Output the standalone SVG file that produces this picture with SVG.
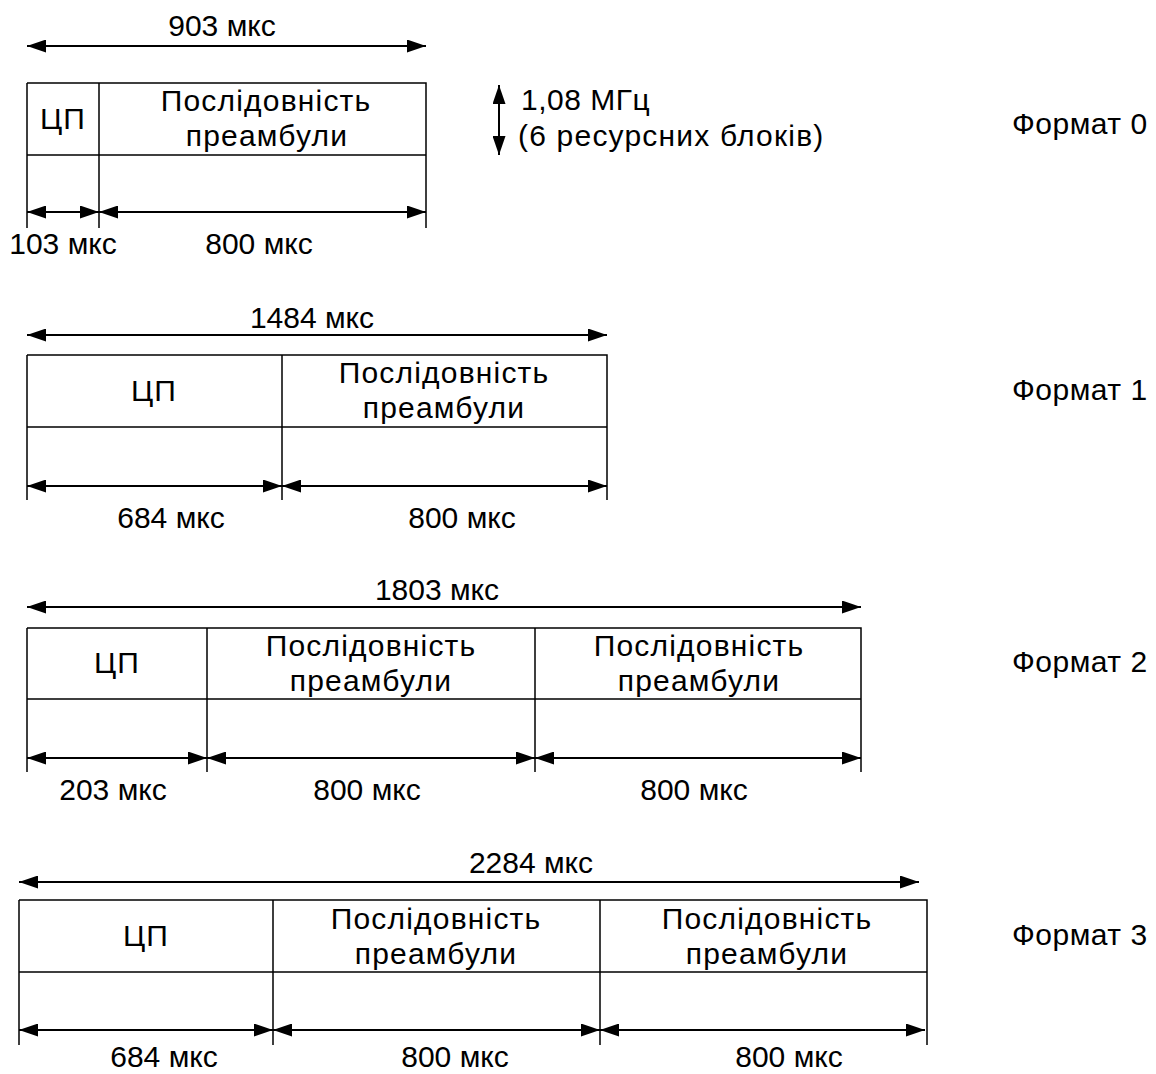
<svg xmlns="http://www.w3.org/2000/svg" width="1156" height="1074" viewBox="0 0 1156 1074">
  <style>
    text { font-family: "Liberation Sans", Arial, sans-serif; font-size: 30px; fill: #000; }
    .c { text-anchor: middle; }
    .w { letter-spacing: 1.2px; }
    .box { fill: none; stroke: #000; stroke-width: 1.5; }
    .dim { stroke: #000; stroke-width: 2; fill: none; marker-start: url(#ah); marker-end: url(#ah); }
  </style>
  <defs>
    <marker id="ah" viewBox="0 0 19 13" markerWidth="19" markerHeight="13" refX="19" refY="6.5" orient="auto-start-reverse" markerUnits="userSpaceOnUse">
      <path d="M0,0 L19,6.5 L0,13 z" fill="#000"/>
    </marker>
  </defs>

  <!-- Format 0 -->
  <g id="format0">
    <path class="box" d="M27,83 H426 V228 M27,228 V83 M27,155 H426 M99,83 V228"/>
    <text class="c w" x="63" y="129">ЦП</text>
    <text class="c w" x="266" y="111">Послідовність</text>
    <text class="c w" x="267" y="146">преамбули</text>
    <text x="1012" y="134" letter-spacing="0.5">Формат 0</text>
  </g>
  <g id="band">
    <path class="dim" d="M499,85 V155"/>
    <text x="521" y="110" letter-spacing="0.5">1,08 МГц</text>
    <text class="w" x="518" y="146">(6 ресурсних блоків)</text>
  </g>

  <!-- Format 1 -->
  <g id="format1">
    <path class="box" d="M27,355 H607 V500 M27,500 V355 M27,427 H607 M282,355 V500"/>
    <text class="c w" x="154" y="401">ЦП</text>
    <text class="c w" x="444" y="383">Послідовність</text>
    <text class="c w" x="444" y="418">преамбули</text>
    <text x="1012" y="400" letter-spacing="0.5">Формат 1</text>
  </g>

  <!-- Format 2 -->
  <g id="format2">
    <path class="box" d="M27,628 H861 V772 M27,772 V628 M27,699 H861 M207,628 V772 M535,628 V772"/>
    <text class="c w" x="117" y="673">ЦП</text>
    <text class="c w" x="371" y="656">Послідовність</text>
    <text class="c w" x="371" y="691">преамбули</text>
    <text class="c w" x="699" y="656">Послідовність</text>
    <text class="c w" x="699" y="691">преамбули</text>
    <text x="1012" y="672" letter-spacing="0.5">Формат 2</text>
  </g>

  <!-- Format 3 -->
  <g id="format3">
    <path class="box" d="M19,900 H927 V1045 M19,1045 V900 M19,972 H927 M273,900 V1045 M600,900 V1045"/>
    <text class="c w" x="146" y="946">ЦП</text>
    <text class="c w" x="436" y="929">Послідовність</text>
    <text class="c w" x="436" y="964">преамбули</text>
    <text class="c w" x="767" y="929">Послідовність</text>
    <text class="c w" x="767" y="964">преамбули</text>
    <text x="1012" y="945" letter-spacing="0.5">Формат 3</text>
  </g>

  <!-- Dimension lines -->
  <g id="connectors">
    <path class="dim" d="M27,46 H426"/>
    <path class="dim" d="M27,212 H99"/>
    <path class="dim" d="M99,212 H426"/>

    <path class="dim" d="M27,335 H607"/>
    <path class="dim" d="M27,486 H282"/>
    <path class="dim" d="M282,486 H607"/>

    <path class="dim" d="M27,607 H861"/>
    <path class="dim" d="M27,758 H207"/>
    <path class="dim" d="M207,758 H535"/>
    <path class="dim" d="M535,758 H861"/>

    <path class="dim" d="M19,882 H919"/>
    <path class="dim" d="M19,1030 H273"/>
    <path class="dim" d="M273,1030 H600"/>
    <path class="dim" d="M600,1030 H925"/>
  </g>

  <!-- Dimension labels -->
  <g id="labels">
    <text class="c" x="222" y="36">903 мкс</text>
    <text class="c" x="63" y="254">103 мкс</text>
    <text class="c" x="259" y="254">800 мкс</text>

    <text class="c" x="312" y="328">1484 мкс</text>
    <text class="c" x="171" y="528">684 мкс</text>
    <text class="c" x="462" y="528">800 мкс</text>

    <text class="c" x="437" y="600">1803 мкс</text>
    <text class="c" x="113" y="800">203 мкс</text>
    <text class="c" x="367" y="800">800 мкс</text>
    <text class="c" x="694" y="800">800 мкс</text>

    <text class="c" x="531" y="873">2284 мкс</text>
    <text class="c" x="164" y="1067">684 мкс</text>
    <text class="c" x="455" y="1067">800 мкс</text>
    <text class="c" x="789" y="1067">800 мкс</text>
  </g>
</svg>
